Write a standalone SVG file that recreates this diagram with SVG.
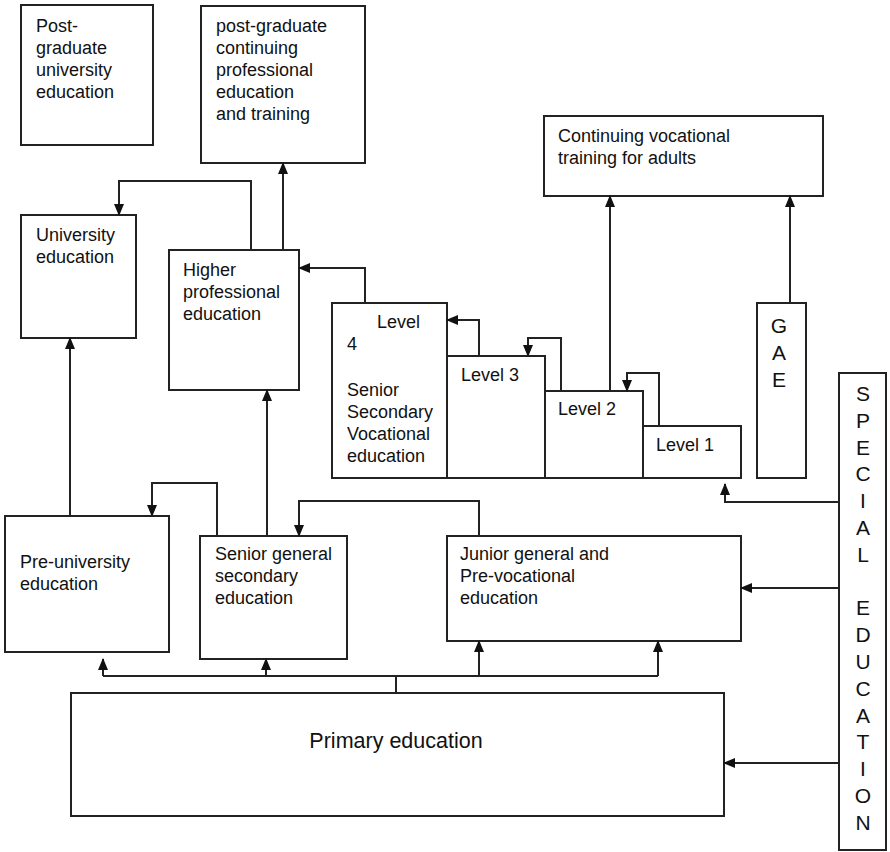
<svg xmlns="http://www.w3.org/2000/svg" width="890" height="852" viewBox="0 0 890 852">
<style>
.box{fill:#fff;stroke:#222;stroke-width:2}
.t{font-family:"Liberation Sans",Arial,sans-serif;font-size:18px;fill:#111}
.big{font-family:"Liberation Sans",Arial,sans-serif;font-size:21.5px;fill:#111}
.v{font-family:"Liberation Sans",Arial,sans-serif;font-size:21px;fill:#111;text-anchor:middle}
.c{fill:none;stroke:#222;stroke-width:2}
</style>
<defs>
<marker id="ah" markerUnits="userSpaceOnUse" markerWidth="12" markerHeight="10" refX="11" refY="5" orient="auto">
<path d="M0,0 L12,5 L0,10 z" fill="#111"/>
</marker>
</defs>
<rect width="890" height="852" fill="#fff"/>

<g id="postgrad-university">
<rect class="box" x="21" y="5" width="132" height="140"/>
<text class="t" x="36" y="32">Post-</text>
<text class="t" x="36" y="54">graduate</text>
<text class="t" x="36" y="76">university</text>
<text class="t" x="36" y="98">education</text>
</g>

<g id="postgrad-continuing">
<rect class="box" x="201" y="6" width="164" height="157"/>
<text class="t" x="216" y="32">post-graduate</text>
<text class="t" x="216" y="54">continuing</text>
<text class="t" x="216" y="76">professional</text>
<text class="t" x="216" y="98">education</text>
<text class="t" x="216" y="120">and training</text>
</g>

<g id="continuing-vocational">
<rect class="box" x="544" y="116" width="279" height="80"/>
<text class="t" x="558" y="142">Continuing vocational</text>
<text class="t" x="558" y="164">training for adults</text>
</g>

<g id="university">
<rect class="box" x="21" y="215" width="115" height="123"/>
<text class="t" x="36" y="241">University</text>
<text class="t" x="36" y="263">education</text>
</g>

<g id="higher-professional">
<rect class="box" x="169" y="250" width="130" height="140"/>
<text class="t" x="183" y="276">Higher</text>
<text class="t" x="183" y="298">professional</text>
<text class="t" x="183" y="320">education</text>
</g>

<g id="level4">
<rect class="box" x="332" y="303" width="115" height="175"/>
<text class="t" x="377" y="328">Level</text>
<text class="t" x="347" y="350">4</text>
<text class="t" x="347" y="396">Senior</text>
<text class="t" x="347" y="418">Secondary</text>
<text class="t" x="347" y="440">Vocational</text>
<text class="t" x="347" y="462">education</text>
</g>

<g id="level3">
<rect class="box" x="447" y="356" width="98" height="122"/>
<text class="t" x="461" y="381">Level 3</text>
</g>

<g id="level2">
<rect class="box" x="545" y="391" width="98" height="87"/>
<text class="t" x="558" y="415">Level 2</text>
</g>

<g id="level1">
<rect class="box" x="643" y="426" width="98" height="52"/>
<text class="t" x="656" y="451">Level 1</text>
</g>

<g id="gae">
<rect class="box" x="757" y="303" width="49" height="175"/>
<text class="v" x="779" y="333">G</text>
<text class="v" x="779" y="360">A</text>
<text class="v" x="779" y="387">E</text>
</g>

<g id="special-education">
<rect class="box" x="839" y="373" width="47" height="477"/>
<text class="v" x="863" y="401"><tspan x="863">S</tspan><tspan x="863" dy="26.8">P</tspan><tspan x="863" dy="26.8">E</tspan><tspan x="863" dy="26.8">C</tspan><tspan x="863" dy="26.8">I</tspan><tspan x="863" dy="26.8">A</tspan><tspan x="863" dy="26.8">L</tspan><tspan x="863" dy="53.6">E</tspan><tspan x="863" dy="26.8">D</tspan><tspan x="863" dy="26.8">U</tspan><tspan x="863" dy="26.8">C</tspan><tspan x="863" dy="26.8">A</tspan><tspan x="863" dy="26.8">T</tspan><tspan x="863" dy="26.8">I</tspan><tspan x="863" dy="26.8">O</tspan><tspan x="863" dy="26.8">N</tspan></text>
</g>

<g id="pre-university">
<rect class="box" x="5" y="516" width="164" height="136"/>
<text class="t" x="20" y="568">Pre-university</text>
<text class="t" x="20" y="590">education</text>
</g>

<g id="senior-general">
<rect class="box" x="200" y="536" width="147" height="123"/>
<text class="t" x="215" y="560">Senior general</text>
<text class="t" x="215" y="582">secondary</text>
<text class="t" x="215" y="604">education</text>
</g>

<g id="junior-general">
<rect class="box" x="447" y="536" width="294" height="105"/>
<text class="t" x="460" y="560">Junior general and</text>
<text class="t" x="460" y="582">Pre-vocational</text>
<text class="t" x="460" y="604">education</text>
</g>

<g id="primary">
<rect class="box" x="71" y="693" width="653" height="123"/>
<text class="big" x="396" y="748" text-anchor="middle">Primary education</text>
</g>

<g id="connectors">
<path class="c" d="M283,250 V163" marker-end="url(#ah)"/>
<path class="c" d="M251,250 V181 H119 V215" marker-end="url(#ah)"/>
<path class="c" d="M365,303 V268 H299" marker-end="url(#ah)"/>
<path class="c" d="M479,356 V320 H447" marker-end="url(#ah)"/>
<path class="c" d="M561,391 V338 H528 V356" marker-end="url(#ah)"/>
<path class="c" d="M659,426 V373 H627 V391" marker-end="url(#ah)"/>
<path class="c" d="M610,391 V196" marker-end="url(#ah)"/>
<path class="c" d="M790,303 V196" marker-end="url(#ah)"/>
<path class="c" d="M839,502 H725 V484" marker-end="url(#ah)"/>
<path class="c" d="M839,588 H741" marker-end="url(#ah)"/>
<path class="c" d="M839,763 H724" marker-end="url(#ah)"/>
<path class="c" d="M70,516 V338" marker-end="url(#ah)"/>
<path class="c" d="M267,536 V390" marker-end="url(#ah)"/>
<path class="c" d="M217,536 V483 H152 V516" marker-end="url(#ah)"/>
<path class="c" d="M479,536 V501 H299 V536" marker-end="url(#ah)"/>
<path class="c" d="M396,693 V676"/>
<path class="c" d="M103,676 H658"/>
<path class="c" d="M103,676 V659" marker-end="url(#ah)"/>
<path class="c" d="M266,676 V659" marker-end="url(#ah)"/>
<path class="c" d="M479,676 V641" marker-end="url(#ah)"/>
<path class="c" d="M658,676 V641" marker-end="url(#ah)"/>
</g>
</svg>
